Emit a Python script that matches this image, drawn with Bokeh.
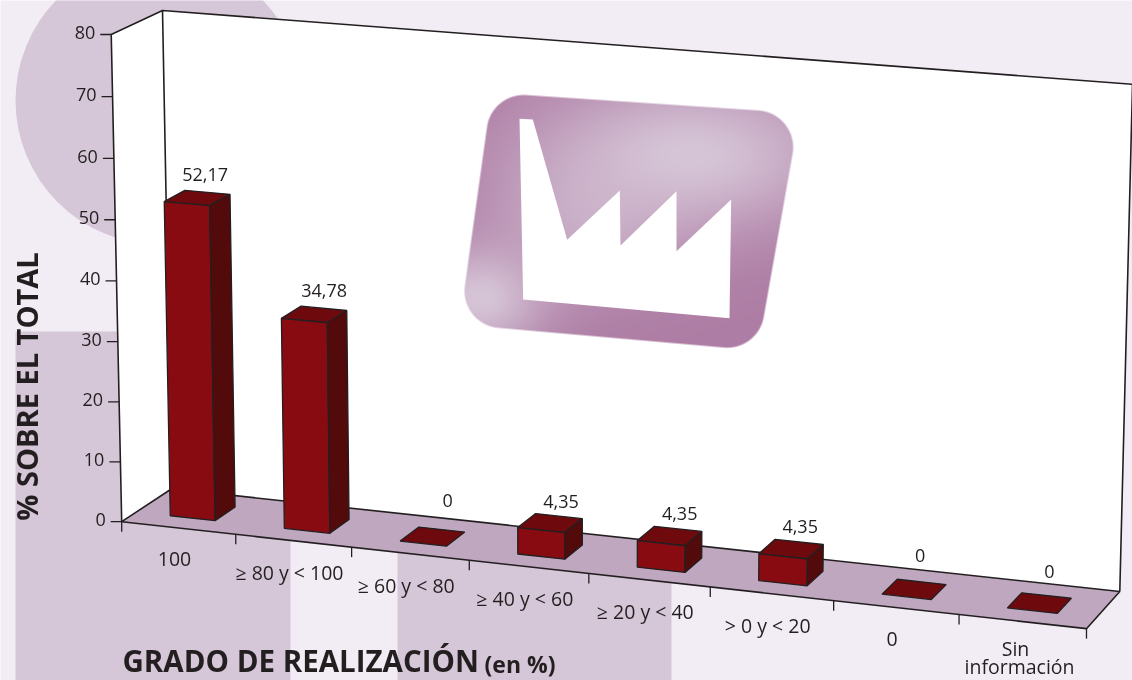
import numpy as np
from bokeh.plotting import figure
from bokeh.models import Range1d
from bokeh.core.properties import value
from bokeh.embed import file_html
from bokeh.resources import INLINE

# ---- data
categories = ["100", "≥ 80 y < 100", "≥ 60 y < 80", "≥ 40 y < 60", "≥ 20 y < 40",
              "> 0 y < 20", "0", "Sin\ninformación"]
values = [52.17, 34.78, 0, 4.35, 4.35, 4.35, 0, 0]
value_labels = ["52,17", "34,78", "0", "4,35", "4,35", "4,35", "0", "0"]
y_ticks = [0, 10, 20, 30, 40, 50, 60, 70, 80]
y_title = "% SOBRE EL TOTAL"
x_title = "GRADO DE REALIZACIÓN"
x_title_small = "(en %)"

# ---- layout
W, H = 1132, 680
INK = "#231f20"
FONT = value("Open Sans")
BAR_W = (0.30, 0.695)
BAR_D = (0.29, 0.70)
LABEL_NUDGE = [(8, -23), (10, -24), (15, -36), (11, -22), (10, -22), (9, -23), (6, -34), (10, -32)]

# camera: world (category, depth, value) -> picture pixel, calibrated on the frame's corners
calib = [((0, 0, 0), (123, 520.5)), ((8, 0, 0), (1086, 628)), ((8, 1, 0), (1119.5, 590)),
         ((0, 1, 0), (170, 489)), ((0, 0, 80), (110, 34)), ((0, 1, 80), (163, 10)),
         ((8, 1, 80), (1132, 84)), ((4, 0, 0), (588, 575)), ((1, 0, 0), (235, 533)),
         ((0, 0, 40), (115.5, 280))]
A = []
for (u, w, v), (px, py) in calib:
    A.append([u, w, v, 1, 0, 0, 0, 0, -px*u, -px*w, -px*v, -px])
    A.append([0, 0, 0, 0, u, w, v, 1, -py*u, -py*w, -py*v, -py])
M = np.linalg.svd(np.array(A, float))[2][-1].reshape(3, 4)


def P(u, w, v):
    q = M @ np.array([u, w, v, 1.0])
    return q[0]/q[2], H - q[1]/q[2]


def poly(*pts):
    return [a for a, _ in pts], [b for _, b in pts]


p = figure(width=W, height=H, x_range=Range1d(0, W), y_range=Range1d(0, H),
           x_axis_type=None, y_axis_type=None, toolbar_location=None,
           output_backend="svg", min_border=0, outline_line_color=None,
           background_fill_color="#f2edf4", border_fill_color="#f2edf4")
p.grid.visible = False
p.styles = {"position": "fixed", "left": "0", "top": "0"}

# page decoration
p.circle(x=[159], y=[H-100], radius=144, fill_color="#d6c7d8", line_color=None)
p.quad(left=[15, 397], right=[290, 671], top=[H-331, H-331], bottom=[0, 0],
       fill_color="#d6c7d8", line_color=None)

# walls
xs, ys = poly(P(0, 0, 0), P(0, 1, 0), P(8, 1, 0), P(8, 1, 80), P(0, 1, 80), P(0, 0, 80))
p.patch(xs, ys, fill_color="white", line_color=None)
xs, ys = poly(P(0, 0, 0), P(0, 0, 80), P(0, 1, 80), P(8, 1, 80), P(8, 1, 0))
p.line(xs, ys, line_color=INK, line_width=1.6)
xs, ys = poly(P(0, 1, 0), P(0, 1, 80))
p.line(xs, ys, line_color=INK, line_width=1.6)

# logo
quad = np.array([[491.3, 92.3], [799.3, 112.7], [757.3, 350], [459, 324]], float)
rad = 37.0
n = len(quad)


def line_of(a, b, off):
    d = (b-a)/np.linalg.norm(b-a)
    nrm = np.array([-d[1], d[0]])
    return a+nrm*off, d


inner = []
for i in range(n):
    a0, d0 = line_of(quad[i-1], quad[i], rad)
    a1, d1 = line_of(quad[i], quad[(i+1) % n], rad)
    t = np.linalg.solve(np.array([d0, -d1]).T, a1-a0)
    inner.append(a0+d0*t[0])
inner = np.array(inner)
x0, x1, y0, y1 = 455, 805, 85, 360
gx, gy = np.meshgrid(np.arange(x0, x1)+.5, np.arange(y0, y1)+.5)
dist = np.full(gx.shape, 1e9)
inside = np.ones(gx.shape, bool)
for i in range(n):
    a, b = inner[i], inner[(i+1) % n]
    ab = b-a
    t = np.clip(((gx-a[0])*ab[0]+(gy-a[1])*ab[1])/(ab @ ab), 0, 1)
    dist = np.minimum(dist, np.hypot(gx-a[0]-t*ab[0], gy-a[1]-t*ab[1]))
    inside &= ((gx-a[0])*ab[1]-(gy-a[1])*ab[0]) < 0
dist[inside] = 0
alpha = np.clip(rad-dist+.5, 0, 1)
g1 = np.exp(-(((gx-690)/150)**2+((gy-155)/75)**2))
g2 = np.exp(-(((gx-480)/65)**2+((gy-298)/52)**2))
g3 = 0.6*np.exp(-(((gx-590)/95)**2+((gy-215)/70)**2))
g = 1-(1-g1)*(1-g2)*(1-g3)
c0, c1 = np.array([174, 125, 165.]), np.array([214, 197, 215.])
img = np.zeros(gx.shape, dtype=np.uint32)
view = img.view(dtype=np.uint8).reshape(gx.shape+(4,))
for k in range(3):
    view[..., k] = (c0[k]+(c1[k]-c0[k])*g).astype(np.uint8)
view[..., 3] = (alpha*255).astype(np.uint8)
p.image_rgba(image=[img[::-1]], x=[x0], y=[H-y1], dw=[x1-x0], dh=[y1-y0])
fx = [207, 247, 350, 508, 510, 678, 678, 842, 837, 218]
fy = [115, 117, 478, 330, 495, 332, 512, 357, 713, 657]
p.patch([450+a/3 for a in fx], [H-80-b/3 for b in fy], fill_color="white", line_color=None)

# floor
xs, ys = poly(P(0, 0, 0), P(8, 0, 0), P(8, 1, 0), P(0, 1, 0))
p.patch(xs, ys, fill_color="#bfa8bf", line_color=INK, line_width=1.6)

# axis ticks and labels
for t in y_ticks:
    x, y = P(0, 0, t)
    p.segment([x-11], [y], [x], [y], line_color=INK, line_width=1.3)
p.text([P(0, 0, t)[0]-16 for t in y_ticks], [P(0, 0, t)[1]+2 for t in y_ticks],
       text=[str(t) for t in y_ticks], text_align="right", text_baseline="middle",
       text_font=FONT, text_font_size="18px", text_color=INK)
for i in range(len(categories)+1):
    x, y = P(i, 0, 0)
    p.segment([x], [y], [x], [y-10], line_color=INK, line_width=1.3)
for i, c in enumerate(categories):
    x, y = P(i+.5, 0, 0)
    lines = c.split("\n")
    if len(lines) == 1:
        p.text([x-4], [y-31.5], text=[c], text_align="center", text_baseline="middle",
               text_font=FONT, text_font_size="19.5px", text_color=INK)
    else:
        p.text([x-7], [y-27], text=[lines[0]], text_align="center", text_baseline="middle",
               text_font=FONT, text_font_size="19.5px", text_color=INK)
        p.text([x-3], [y-45], text=[lines[1]], text_align="center", text_baseline="middle",
               text_font=FONT, text_font_size="19.5px", text_color=INK)

# bars
L, R = BAR_W
F, B = BAR_D
for i, val in enumerate(values):
    u0, u1 = i+L, i+R
    xs, ys = poly(P(u0, F, val), P(u1, F, val), P(u1, B, val), P(u0, B, val))
    p.patch(xs, ys, fill_color="#6e0a0e", line_color=INK, line_width=1.3)
    if val > 0:
        xs, ys = poly(P(u0, F, 0), P(u1, F, 0), P(u1, F, val), P(u0, F, val))
        p.patch(xs, ys, fill_color="#890b12", line_color=INK, line_width=1.3)
        xs, ys = poly(P(u1, F, 0), P(u1, B, 0), P(u1, B, val), P(u1, F, val))
        p.patch(xs, ys, fill_color="#520a0a", line_color=INK, line_width=1.3)
    x, y = P(i+(L+R)/2, (F+B)/2, val)
    dx, dy = LABEL_NUDGE[i]
    p.text([x+dx], [y-dy], text=[value_labels[i]], text_align="center", text_baseline="middle",
           text_font=FONT, text_font_size="18px", text_color=INK)

# titles
p.text([26], [H-386], text=[y_title], angle=np.pi/2, text_align="center", text_baseline="middle",
       text_font=FONT, text_font_style="bold", text_font_size="29px", text_color=INK)
p.text([122], [H-660], text=[x_title], text_align="left", text_baseline="middle",
       text_font=FONT, text_font_style="bold", text_font_size="29.5px", text_color=INK)
p.text([484], [H-663], text=[x_title_small], text_align="left", text_baseline="middle",
       text_font=FONT, text_font_style="bold", text_font_size="23px", text_color=INK)

open("out.html", "w").write(file_html(p, INLINE))
